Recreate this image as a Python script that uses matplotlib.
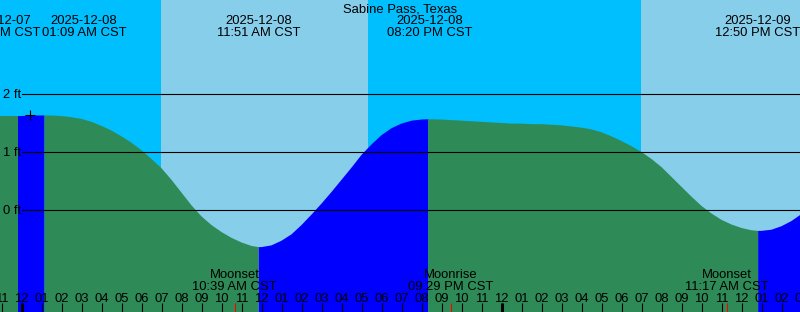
import numpy as np
import matplotlib.pyplot as plt

plt.rcParams['font.family'] = ['Liberation Sans', 'DejaVu Sans']

# hours since 2025-12-08 00:00 CST, tide height in feet
hours = [-1.1, -0.5, -0.2, 0, 0.5, 1, 1.15, 1.5, 2, 2.5, 3, 3.5, 4, 4.5, 5,
         5.5, 6, 6.5, 7, 7.5, 8, 8.5, 9, 9.5, 10, 10.5, 11, 11.5, 11.85, 12,
         12.5, 13, 13.5, 14, 14.5, 15, 15.5, 16, 16.5, 17, 17.5, 18, 18.5, 19,
         19.5, 20, 20.33, 21, 21.5, 22, 22.5, 23, 23.5, 24, 24.5, 25, 25.5, 26,
         26.5, 27, 27.5, 28, 28.5, 29, 29.5, 30, 30.5, 31, 31.5, 32, 32.5, 33,
         33.5, 34, 34.5, 35, 35.5, 36, 36.5, 36.83, 37, 37.5, 38, 38.5, 39]
height_ft = [1.62, 1.62, 1.62, 1.62, 1.63, 1.63, 1.63, 1.63, 1.62, 1.60, 1.57,
             1.52, 1.45, 1.37, 1.27, 1.16, 1.03, 0.88, 0.72, 0.52, 0.30, 0.08,
             -0.11, -0.26, -0.38, -0.48, -0.56, -0.62, -0.64, -0.64,
             -0.61, -0.53, -0.42, -0.26, -0.08, 0.11, 0.31, 0.52, 0.73, 0.95,
             1.13, 1.29, 1.41, 1.49, 1.54, 1.56, 1.565, 1.56, 1.55, 1.54, 1.53,
             1.52, 1.51, 1.50, 1.49, 1.49, 1.48, 1.48, 1.47, 1.46, 1.44, 1.42,
             1.39, 1.34, 1.27, 1.19, 1.10, 1.00, 0.88, 0.74, 0.57, 0.40, 0.23,
             0.07, -0.06, -0.17, -0.25, -0.31, -0.35, -0.36, -0.36, -0.34,
             -0.28, -0.19, -0.07]

low_times = [-0.2, 11.85, 36.83]
high_times = [1.15, 20.33]

sunrise = [6.98, 30.98]
sunset = [17.3, 41.0]

tide_label_pos = [-1.18, 3.13, 11.85, 20.4, 36.83]
tide_dates = ['2025-12-07', '2025-12-08', '2025-12-08', '2025-12-08', '2025-12-09']
tide_times = ['11:48 PM CST', '01:09 AM CST', '11:51 AM CST', '08:20 PM CST', '12:50 PM CST']

moon_times = [10.65, 21.48, 35.28]
moon_names = ['Moonset', 'Moonrise', 'Moonset']
moon_labels = ['10:39 AM CST', '09:29 PM CST', '11:17 AM CST']

midnights = [0, 24]
levels = [0, 1, 2]

W, H = 800, 312
x0, x1 = -1.075, 38.925
y0, y1 = -1.759, 3.621
FS = 9.4

fig = plt.figure(figsize=(W / 100, H / 100), dpi=100)
ax = fig.add_axes([0, 0, 1, 1])
ax.set_xlim(x0, x1)
ax.set_ylim(y0, y1)
ax.axis('off')

def fy(px):
    # pixel row from the top -> axes fraction
    return 1 - px / H

# sky: night then daytime bands
ax.axvspan(x0, x1, color='#00bfff', lw=0)
for r, s in zip(sunrise, sunset):
    ax.axvspan(r, s, color='#87ceeb', lw=0)

# tide, blue while rising, green while falling
h = np.array(hours)
z = np.array(height_ft)
flood = np.zeros(len(h), bool)
inside = np.zeros(len(h), bool)
for lo, hi in zip(low_times, high_times + [99]):
    flood |= (h >= lo) & (h <= hi)
    inside |= (h > lo) & (h < hi)
ax.fill_between(h, z, y0, where=flood, color='#0000ff', lw=0)
ax.fill_between(h, z, y0, where=~inside, color='#2e8b57', lw=0)

for lev in levels:
    ax.axhline(lev, xmin=22 / W, color='black', lw=0.8)
    ax.text(3 / W, lev - 4 / 58, f'{lev} ft', transform=ax.get_yaxis_transform(),
            va='baseline', ha='left', fontsize=FS)

ax.plot(0.425, 1.64, marker='+', color='black', ms=6.5, mew=0.8)

ax.text(0.5, fy(12), 'Sabine Pass, Texas', transform=ax.transAxes,
        ha='center', va='baseline', fontsize=FS)

tr = ax.get_xaxis_transform()
for x, d, t in zip(tide_label_pos, tide_dates, tide_times):
    ax.text(x, fy(24), d, transform=tr, ha='center', va='baseline', fontsize=FS)
    ax.text(x, fy(36), t, transform=tr, ha='center', va='baseline', fontsize=FS)

# hour ticks along the bottom
for hh in range(-1, 40):
    lab = '%02d' % ((hh % 12) or 12)
    ax.text(hh, fy(302), lab, transform=tr, ha='center', va='baseline', fontsize=FS)
    ax.vlines(hh, 0, 9 / H, transform=tr, color='black', lw=0.8)
ax.vlines(midnights, 0, 9 / H, transform=tr, color='black', lw=2.2)

for t, n, lab in zip(moon_times, moon_names, moon_labels):
    ax.vlines(t, 0, 9 / H, transform=tr, color='red', lw=0.8)
    ax.text(t, fy(278), n, transform=tr, ha='center', va='baseline', fontsize=FS)
    ax.text(t, fy(290), lab, transform=tr, ha='center', va='baseline', fontsize=FS)

fig.savefig('out.png', dpi=100)
